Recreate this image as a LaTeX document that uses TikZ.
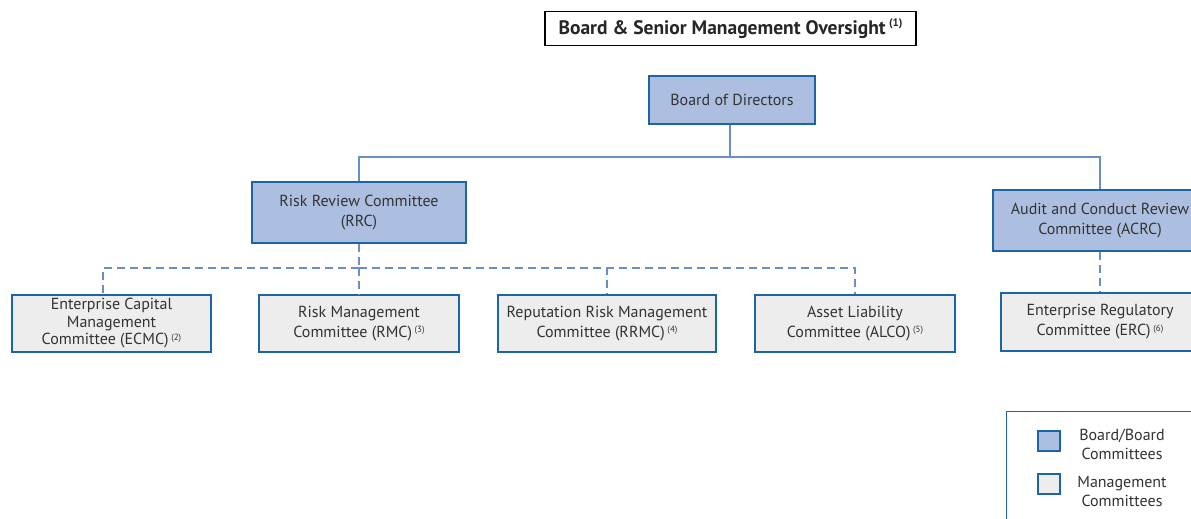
\documentclass[tikz,border=0pt]{standalone}
\usepackage{fontspec}
\setmainfont{PT Sans}
\definecolor{boardfill}{HTML}{ADBFE0}
\definecolor{mgmtfill}{HTML}{EDEDED}
\definecolor{edgecol}{HTML}{1B65A6}
\definecolor{linkcol}{HTML}{6A8EC9}
\definecolor{txtcol}{HTML}{333333}
\newcommand{\fnote}[1]{\,\raisebox{0.6ex}{\fontsize{9}{9}\selectfont(#1)}}
\newcommand{\tfnote}[1]{\,\raisebox{0.75ex}{\fontsize{11}{11}\selectfont\bfseries(#1)}}
\begin{document}
\begin{tikzpicture}[x=1pt,y=-1pt,
  boxbase/.style={draw=edgecol, line width=1.6pt, text=txtcol, align=center,
    inner sep=0pt, font=\fontsize{16}{20}\selectfont},
  boardbox/.style={boxbase, fill=boardfill},
  mgmtbox/.style={boxbase, fill=mgmtfill},
  solidlink/.style={draw=linkcol, line width=1.4pt},
  dashlink/.style={draw=linkcol, line width=1.8pt, dash pattern=on 8pt off 5pt},
]
\useasboundingbox (0,0) rectangle (1191,519);
\fill[white] (0,0) rectangle (1191,519);

% title
\node[draw=black, line width=1.3pt, fill=white, minimum width=371pt, minimum height=34pt, inner sep=0pt,
  font=\fontsize{19.5}{21}\selectfont\bfseries, text=black!85] (title) at (730.5,28.5) {Board \& Senior Management Oversight\tfnote{1}};

% board level
\node[boardbox, minimum width=166pt, minimum height=48pt] (bod) at (732,100) {Board of Directors};
\node[boardbox, minimum width=214pt, minimum height=61pt] (rrc) at (359,212.5) {Risk Review Committee\\(RRC)};
\node[boardbox, minimum width=214pt, minimum height=61pt] (acrc) at (1100,220.5) {Audit and Conduct Review\\Committee (ACRC)};

% management level
\node[mgmtbox, minimum width=199pt, minimum height=57pt, font=\fontsize{16}{17.5}\selectfont] (ecmc) at (111.5,323.5) {Enterprise Capital\\Management\\Committee (ECMC)\fnote{2}};
\node[mgmtbox, minimum width=200pt, minimum height=57pt] (rmc) at (359,323.5) {Risk Management\\Committee (RMC)\fnote{3}};
\node[mgmtbox, minimum width=218pt, minimum height=57pt] (rrmc) at (607,323.5) {Reputation Risk Management\\Committee (RRMC)\fnote{4}};
\node[mgmtbox, minimum width=200pt, minimum height=57pt] (alco) at (855,323.5) {Asset Liability\\Committee (ALCO)\fnote{5}};
\node[mgmtbox, minimum width=198pt, minimum height=58pt] (erc) at (1100,322) {Enterprise Regulatory\\Committee (ERC)\fnote{6}};

% solid connectors
\coordinate (bj) at (730,157);
\draw[solidlink] (bod.south -| bj) -- (bj);
\draw[solidlink] (bj) -| (rrc.north);
\draw[solidlink] (bj) -| (acrc.north);

% dashed connectors
\coordinate (rj) at (359,268);
\draw[dashlink] (rrc.south) -- (rj);
\draw[dashlink] (rj) -| ([xshift=-8.5pt]ecmc.north);
\draw[dashlink] (rj) -- (rmc.north);
\draw[dashlink] (rj) -| (rrmc.north);
\draw[dashlink] (rj) -| (alco.north);
\draw[dashlink] (acrc.south) -- (erc.north);

% legend
\draw[edgecol, line width=1pt] (1006,411) rectangle (1260,560);
\node[boardbox, line width=1.4pt, minimum width=22pt, minimum height=20pt] (lgb) at (1049,441) {};
\node[mgmtbox, line width=1.4pt, minimum width=22pt, minimum height=20pt] (lgm) at (1049,484) {};
\node[text=txtcol, align=center, font=\fontsize{16}{19}\selectfont] (lgbt) at (1122,444) {Board/Board\\Committees};
\node[text=txtcol, align=center, font=\fontsize{16}{19}\selectfont] (lgmt) at (1122,491) {Management\\Committees};
\end{tikzpicture}
\end{document}
